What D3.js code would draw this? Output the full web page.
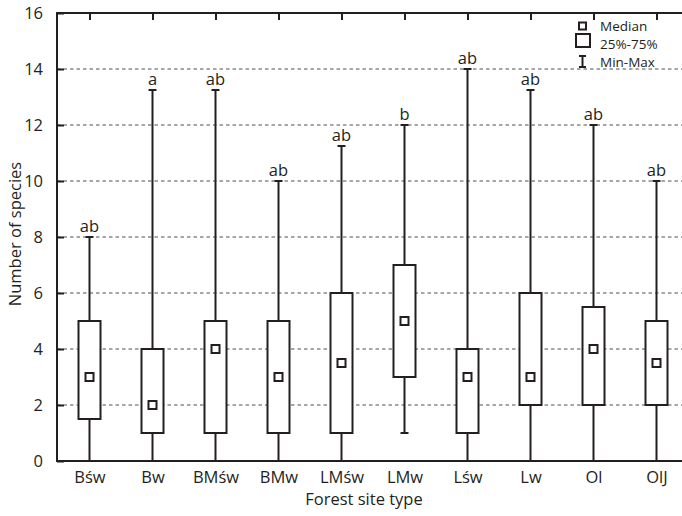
<!DOCTYPE html>
<html><head><meta charset="utf-8">
<script src="https://cdn.jsdelivr.net/npm/d3@7"></script>
<style>body{margin:0;background:#fff}svg{display:block}text{font-family:"Open Sans","Noto Sans",sans-serif;fill:#231f20}</style>
</head><body>
<svg id="c" width="682" height="516"></svg>
<script>
const categories = ["Bśw","Bw","BMśw","BMw","LMśw","LMw","Lśw","Lw","Ol","OlJ"];
const minVals    = [0,0,0,0,0,1,0,0,0,0];
const q1Vals     = [1.5,1,1,1,1,3,1,2,2,2];
const medianVals = [3,2,4,3,3.5,5,3,3,4,3.5];
const q3Vals     = [5,4,5,5,6,7,4,6,5.5,5];
const maxVals    = [8,13.25,13.25,10,11.25,12,14,13.25,12,10];
const groupLabels= ["ab","a","ab","ab","ab","b","ab","ab","ab","ab"];
const yTicks     = [0,2,4,6,8,10,12,14,16];
const legendLabels = ["Median","25%-75%","Min-Max"];

const svg = d3.select("#c");
const L = 57, R = 700, T = 13, B = 461;
const ink = "#231f20";
const fs = 16.5;
const x = d3.scalePoint().domain(categories).range([89.5, 656.5]);
const y = d3.scaleLinear().domain([0,16]).range([B, T]);

// grid
svg.append("g").selectAll("line").data(yTicks.filter(d=>d>0&&d<16)).join("line")
  .attr("x1", L).attr("x2", R).attr("y1", d=>y(d)).attr("y2", d=>y(d))
  .attr("stroke", "#8a8a8a").attr("stroke-width", 1.5).attr("stroke-dasharray", "3.5,3");

// left axis (inward ticks)
const yAxis = d3.axisLeft(y).tickValues(yTicks).tickSize(-7).tickPadding(14);
const ga = svg.append("g").attr("transform", `translate(${L},0)`).call(yAxis);
ga.select(".domain").remove();
ga.selectAll(".tick line").attr("stroke", ink).attr("stroke-width", 2);
ga.selectAll(".tick text").attr("font-size", fs).attr("font-family", "Open Sans").attr("fill", ink);

// top axis ticks
const tAxis = d3.axisTop(x).tickSize(-7).tickFormat("");
const gt = svg.append("g").attr("transform", `translate(0,${T})`).call(tAxis);
gt.select(".domain").remove();
gt.selectAll(".tick line").attr("stroke", ink).attr("stroke-width", 2);

// bottom axis labels
const bAxis = d3.axisBottom(x).tickSize(0).tickPadding(10);
const gb = svg.append("g").attr("transform", `translate(0,${B})`).call(bAxis);
gb.select(".domain").remove();
gb.selectAll(".tick text").attr("font-size", fs).attr("font-family", "Open Sans").attr("fill", ink);

const data = categories.map((c,i)=>({c, min:minVals[i], q1:q1Vals[i], med:medianVals[i], q3:q3Vals[i], max:maxVals[i], lab:groupLabels[i]}));
const bw = 22, cap = 8;
const g = svg.append("g").selectAll("g").data(data).join("g");
g.append("line").attr("x1", d=>x(d.c)).attr("x2", d=>x(d.c)).attr("y1", d=>y(d.min)).attr("y2", d=>y(d.max))
  .attr("stroke", ink).attr("stroke-width", 2);
g.append("line").attr("x1", d=>x(d.c)-cap/2).attr("x2", d=>x(d.c)+cap/2).attr("y1", d=>y(d.max)).attr("y2", d=>y(d.max))
  .attr("stroke", ink).attr("stroke-width", 2);
g.append("line").attr("x1", d=>x(d.c)-cap/2).attr("x2", d=>x(d.c)+cap/2).attr("y1", d=>y(d.min)).attr("y2", d=>y(d.min))
  .attr("stroke", ink).attr("stroke-width", 2);
g.append("rect").attr("x", d=>x(d.c)-bw/2).attr("width", bw).attr("y", d=>y(d.q3)).attr("height", d=>y(d.q1)-y(d.q3))
  .attr("fill", "#fff").attr("stroke", ink).attr("stroke-width", 2);
g.append("rect").attr("x", d=>x(d.c)-4).attr("y", d=>y(d.med)-4).attr("width", 8).attr("height", 8)
  .attr("fill", "#fff").attr("stroke", ink).attr("stroke-width", 2);
g.append("text").attr("x", d=>x(d.c)).attr("y", d=>y(d.max)-5).attr("text-anchor", "middle")
  .attr("font-size", fs).text(d=>d.lab);

// frame
svg.append("line").attr("x1", L).attr("x2", R).attr("y1", T).attr("y2", T).attr("stroke", ink).attr("stroke-width", 2);
svg.append("line").attr("x1", L).attr("x2", R).attr("y1", B).attr("y2", B).attr("stroke", ink).attr("stroke-width", 2);
svg.append("line").attr("x1", L).attr("x2", L).attr("y1", T-1).attr("y2", B+1).attr("stroke", ink).attr("stroke-width", 2);

// axis titles
svg.append("text").attr("x", 364).attr("y", 505).attr("text-anchor", "middle").attr("font-size", fs).text("Forest site type");
svg.append("text").attr("transform", "translate(21,234) rotate(-90)").attr("text-anchor", "middle").attr("font-size", fs).text("Number of species");

// legend
const lg = svg.append("g");
lg.append("rect").attr("x", 579).attr("y", 22.5).attr("width", 7).attr("height", 7).attr("fill", "#fff").attr("stroke", ink).attr("stroke-width", 2);
lg.append("rect").attr("x", 576).attr("y", 34).attr("width", 14).attr("height", 13).attr("fill", "#fff").attr("stroke", ink).attr("stroke-width", 2);
lg.append("line").attr("x1", 582.5).attr("x2", 582.5).attr("y1", 56).attr("y2", 67).attr("stroke", ink).attr("stroke-width", 2);
lg.append("line").attr("x1", 579).attr("x2", 586).attr("y1", 56).attr("y2", 56).attr("stroke", ink).attr("stroke-width", 2);
lg.append("line").attr("x1", 579).attr("x2", 586).attr("y1", 67).attr("y2", 67).attr("stroke", ink).attr("stroke-width", 2);
lg.selectAll("text").data(legendLabels).join("text").attr("x", 600).attr("y", (d,i)=>31+i*18).attr("font-size", 13.5).text(d=>d);
</script>
</body></html>
